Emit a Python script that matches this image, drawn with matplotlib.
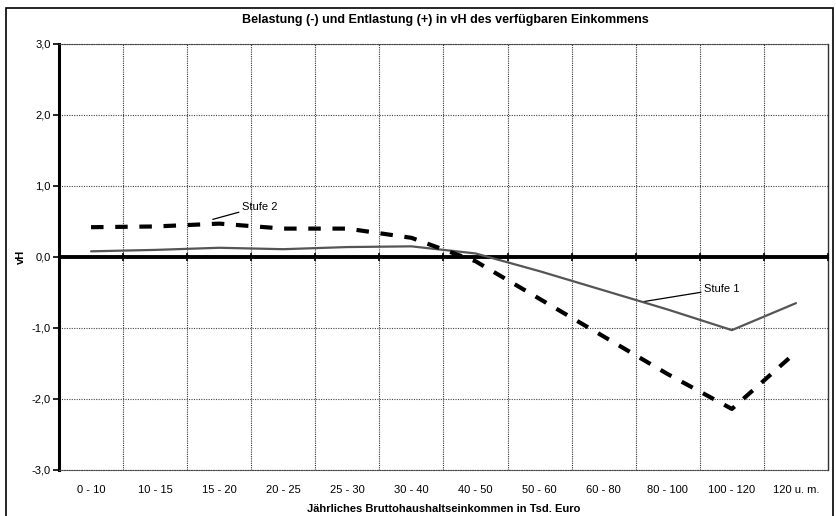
import numpy as np
import matplotlib
matplotlib.use("Agg")
import matplotlib.pyplot as plt
from matplotlib.patches import Rectangle

plt.rcParams['font.family'] = ['Liberation Sans', 'DejaVu Sans']

categories = ["0 - 10", "10 - 15", "15 - 20", "20 - 25", "25 - 30", "30 - 40",
              "40 - 50", "50 - 60", "60 - 80", "80 - 100", "100 - 120", "120 u. m."]
stufe1 = [0.08, 0.10, 0.13, 0.11, 0.14, 0.15, 0.05, -0.20, -0.47, -0.74, -1.03, -0.65]
stufe2 = [0.42, 0.43, 0.47, 0.40, 0.40, 0.27, -0.06, -0.59, -1.12, -1.65, -2.14, -1.34]
yticks = [3.0, 2.0, 1.0, 0.0, -1.0, -2.0, -3.0]
ytick_labels = ["3,0", "2,0", "1,0", "0,0", "-1,0", "-2,0", "-3,0"]

title = "Belastung (-) und Entlastung (+) in vH des verfügbaren Einkommens"
xlabel = "Jährliches Bruttohaushaltseinkommen in Tsd. Euro"
ylabel = "vH"

fig = plt.figure(figsize=(8.37, 5.16), dpi=100)
ax = fig.add_axes([59/837, 1-470/516, (828-59)/837, (470-44)/516])

x = np.arange(len(categories))
bounds = np.arange(-0.5, len(categories), 1.0)

ax.set_xlim(-0.5, len(categories) - 0.5)
ax.set_ylim(-3, 3)

# grid
for b in bounds[1:-1]:
    ax.axvline(b, color='#333333', lw=0.8, ls=(0, (1, 1.0)), zorder=1)
for yv in yticks:
    if yv != 0:
        ax.axhline(yv, color='#444444', lw=0.8, ls=(0, (1, 1.2)), zorder=1)

# zero line with category tick marks
ax.axhline(0, color='black', lw=2.8, zorder=3)
ax.plot(bounds, np.zeros_like(bounds), '|', color='black', ms=6, mew=1.2, zorder=3)

# series
ax.plot(x, stufe1, color='#555555', lw=1.6, zorder=4, solid_capstyle='round')
ax.plot(x, stufe2, color='black', lw=3.0, ls=(0, (3.0, 2.8)), zorder=5)

# annotations
ax.annotate("Stufe 2", xy=(1.9, 0.53), xytext=(2.35, 0.71), fontsize=8,
            va='center', ha='left',
            arrowprops=dict(arrowstyle='-', color='black', lw=0.9, shrinkA=0, shrinkB=0))
ax.annotate("Stufe 1", xy=(8.61, -0.63), xytext=(9.56, -0.45), fontsize=8,
            va='center', ha='left',
            arrowprops=dict(arrowstyle='-', color='black', lw=0.9, shrinkA=0, shrinkB=0))

ax.set_xticks(x)
ax.set_xticklabels(categories, fontsize=8)
ax.tick_params(axis='x', length=0, pad=11)
ax.set_yticks(yticks)
ax.set_yticklabels(ytick_labels, fontsize=8)
ax.tick_params(axis='y', length=4, width=1.2, direction='out', pad=2)

ax.spines['left'].set_linewidth(2.2)
ax.spines['left'].set_color('black')
for s in ['top', 'bottom']:
    ax.spines[s].set_linewidth(0.8)
    ax.spines[s].set_color('#444444')
    ax.spines[s].set_linestyle((0, (1, 1.2)))
ax.spines['right'].set_linewidth(1.0)
ax.spines['right'].set_color('#333333')

ax.set_xlabel(xlabel, fontsize=8, fontweight='bold', labelpad=6)
ax.set_ylabel(ylabel, fontsize=8, fontweight='bold', labelpad=4)
fig.text(445/837, 1-20/516, title, ha='center', va='center', fontsize=9, fontweight='bold')

fig.patches.append(Rectangle((6/837, -0.01), (833-6)/837, 1-8/516+0.01,
                             transform=fig.transFigure, fill=False, ec='black', lw=1.2))

fig.savefig("out.png", dpi=100)
